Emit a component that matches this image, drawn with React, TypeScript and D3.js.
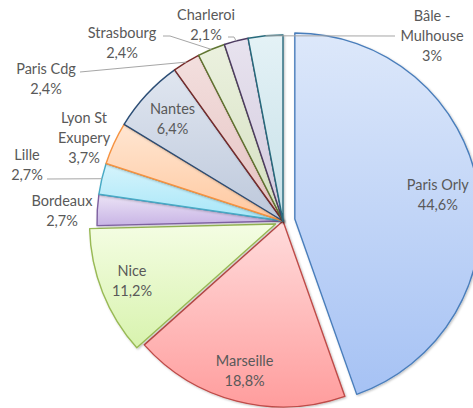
import React from 'react';
import * as d3 from 'd3';

// airports and their share of traffic (%)
const airports = ['Paris Orly', 'Marseille', 'Nice', 'Bordeaux', 'Lille', 'Lyon St Exupery', 'Nantes', 'Paris Cdg', 'Strasbourg', 'Charleroi', 'Bâle - Mulhouse'];
const shares = [44.6, 18.8, 11.2, 2.7, 2.7, 3.7, 6.4, 2.4, 2.4, 2.1, 3];
const shareLabels = ['44,6%', '18,8%', '11,2%', '2,7%', '2,7%', '3,7%', '6,4%', '2,4%', '2,4%', '2,1%', '3%'];
// label text split on lines as shown in the chart
const nameLines = [['Paris Orly'], ['Marseille'], ['Nice'], ['Bordeaux'], ['Lille'], ['Lyon St', 'Exupery'], ['Nantes'], ['Paris Cdg'], ['Strasbourg'], ['Charleroi'], ['Bâle -', 'Mulhouse']];

const strokes = ['#4a7ebb', '#be4b48', '#98b954', '#7d60a0', '#46aac5', '#f69240', '#2c4d75', '#772c2a', '#5f7530', '#4d3b62', '#276a7c'];
const fillTop = ['#dde8fa', '#ffdcdc', '#f4fde3', '#ece4f6', '#d6f4fc', '#ffe6d2', '#e0e6f0', '#f3dfde', '#ebf1df', '#e8e3ef', '#e4f2f6'];
const fillBottom = ['#a6c2f4', '#ff9d9d', '#d8f3ae', '#c8b4e5', '#a6e6f8', '#ffc89f', '#bdc8db', '#e4c2c1', '#d5e0c0', '#d2cadd', '#c7e0e8'];
const explode = [12, 0, 8, 0, 0, 0, 0, 0, 0, 0, 0];

// label placement: inside labels as fraction of radius, outside labels as offsets from centre
const insideRadius: Record<number, number> = { 0: 0.78, 1: 0.83, 2: 0.83, 6: 0.81 };
const outsidePos: Record<number, [number, number]> = {
  3: [-221, -11], 4: [-256, -57], 5: [-199, -84], 7: [-237, -143],
  8: [-161, -179], 9: [-77, -197], 10: [149, -186],
};
// leader line start points (relative to centre), elbow length
const leaders: Record<number, [number, number, number]> = {
  4: [-236, -42, 0], 7: [-203, -149, 0], 8: [-120, -185, 7], 9: [-55, -184, 6], 10: [112, -185, 0],
};

const W = 473;
const H = 408;
const cx = 283;
const cy = 221;
const R = 186;
const font = 'Lato, "Open Sans", sans-serif';
const textColor = '#595959';
const lineH = 20;

export default function App() {
  const pie = d3.pie<number>().sort(null).startAngle(0).endAngle(Math.PI * 2);
  const arcs = pie(shares);
  const arc = d3.arc<d3.PieArcDatum<number>>().innerRadius(0).outerRadius(R);

  const dir = (a: number): [number, number] => [Math.sin(a), -Math.cos(a)];

  return (
    <svg width={W} height={H} style={{ position: 'absolute', left: 0, top: 0, background: '#fff' }} xmlns="http://www.w3.org/2000/svg">
      <defs>
        {arcs.map((a, i) => (
          <linearGradient key={`g${i}`} id={`grad${i}`} x1={0} y1={0} x2={0} y2={1}>
            <stop offset="0%" stopColor={fillTop[i]} />
            <stop offset="100%" stopColor={fillBottom[i]} />
          </linearGradient>
        ))}
        <filter id="shadow" x="-10%" y="-10%" width="120%" height="120%">
          <feDropShadow dx={1} dy={1} stdDeviation={1.2} floodColor="#000" floodOpacity={0.25} />
        </filter>
      </defs>
      <g transform={`translate(${cx}, ${cy})`}>
        {arcs.map((a, i) => {
          const mid = (a.startAngle + a.endAngle) / 2;
          const [ux, uy] = dir(mid);
          const ox = ux * explode[i];
          const oy = uy * explode[i];
          return (
            <path key={`s${i}`} d={arc(a) || ''} transform={`translate(${ox}, ${oy})`}
              fill={`url(#grad${i})`} stroke={strokes[i]} strokeWidth={1.4} strokeLinejoin="round" filter="url(#shadow)" />
          );
        })}
        {arcs.map((a, i) => {
          const lead = leaders[i];
          if (!lead) return null;
          const mid = (a.startAngle + a.endAngle) / 2;
          const [ux, uy] = dir(mid);
          const ex = ux * R;
          const ey = uy * R;
          const [sx, sy, elbow] = lead;
          const d = d3.path();
          d.moveTo(sx, sy);
          d.lineTo(sx + (ex > sx ? elbow : -elbow), sy);
          d.lineTo(ex, ey);
          return <path key={`l${i}`} d={d.toString()} fill="none" stroke="#a6a6a6" strokeWidth={1} />;
        })}
        {arcs.map((a, i) => {
          const mid = (a.startAngle + a.endAngle) / 2;
          const [ux, uy] = dir(mid);
          let x: number;
          let y: number;
          if (insideRadius[i] !== undefined) {
            const r = insideRadius[i] * R;
            x = ux * (r + explode[i]);
            y = uy * (r + explode[i]);
          } else {
            [x, y] = outsidePos[i];
          }
          const lines = [...nameLines[i], shareLabels[i]];
          const top = y - ((lines.length - 1) * lineH) / 2;
          return (
            <text key={`t${i}`} textAnchor="middle" fontFamily={font} fontSize={14.5} fill={textColor}>
              {lines.map((ln, j) => (
                <tspan key={j} x={x} y={top + j * lineH} dominantBaseline="central">{ln}</tspan>
              ))}
            </text>
          );
        })}
      </g>
    </svg>
  );
}
